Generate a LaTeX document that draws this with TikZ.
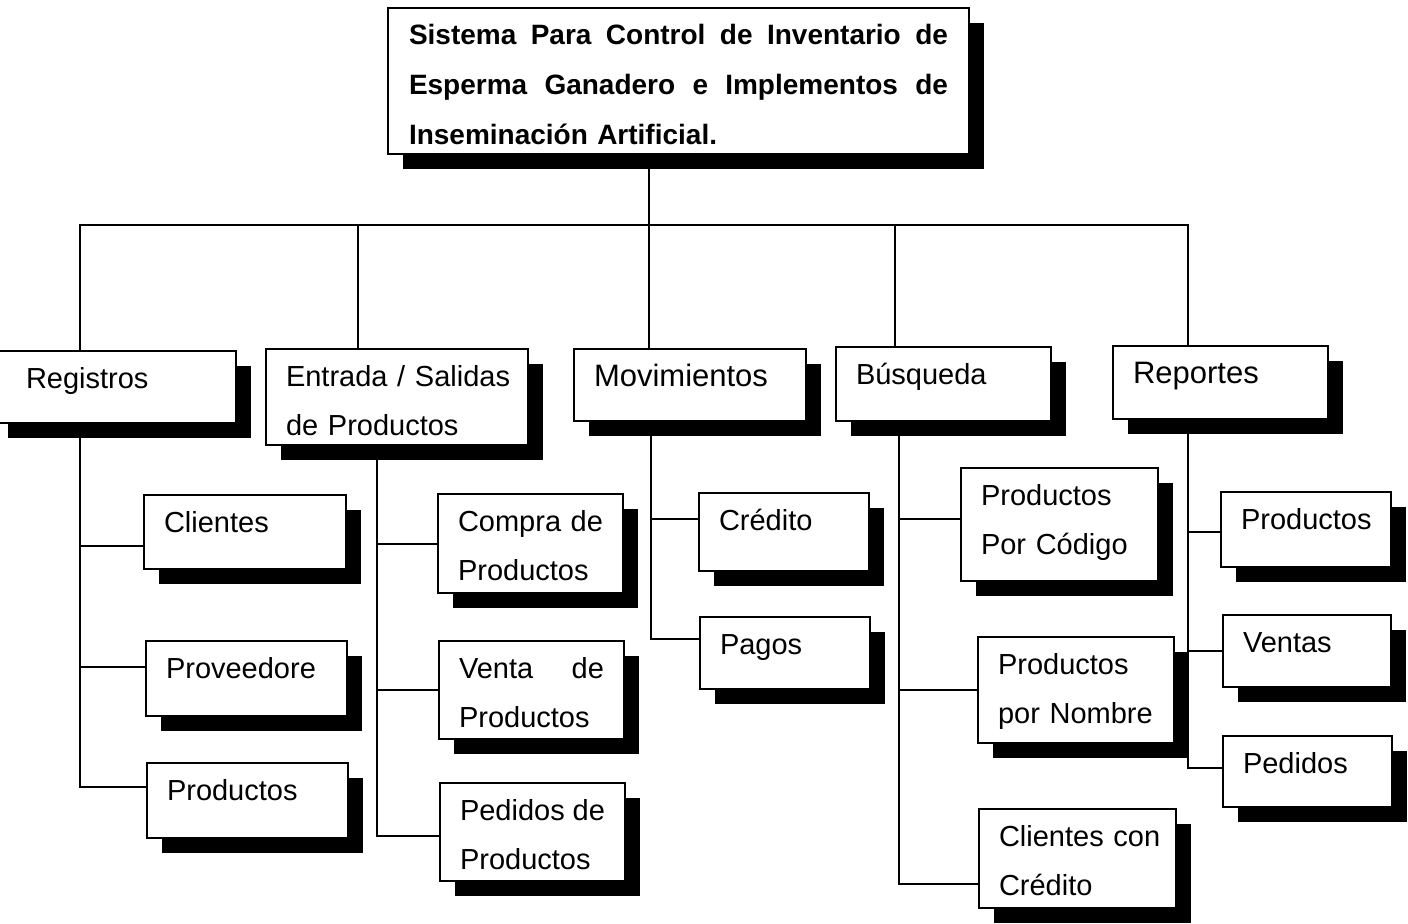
\documentclass[tikz,border=0pt]{standalone}
\usepackage{fontspec}
\setmainfont{Liberation Sans}
\usepackage{tikz}
\usetikzlibrary{shadows}

\tikzset{
  every box/.style={draw, fill=white, anchor=north west, align=left,
    inner xsep=10pt, inner ysep=0pt, text height=18.5pt,
    font=\fontsize{14.5}{24.5}\selectfont,
    drop shadow={shadow xshift=7.5pt, shadow yshift=-7.5pt, fill=black, opacity=1}},
  box size/.style 2 args={text width=#1, text depth=#2},
  big text/.style={font=\fontsize{15.5}{24.5}\selectfont}
}

\begin{document}
\begin{tikzpicture}[x=0.5pt, y=-0.5pt, line width=1pt]
\useasboundingbox (0,0) rectangle (1408,923);

% top box
\node [every box, box size={269.5pt}{55pt}, inner xsep=10.5pt, text height=18pt,
  font=\bfseries\fontsize{14}{25}\selectfont] (title) at (387,7)
  {\makebox[269.5pt][l]{Sistema\hfill Para\hfill Control\hfill de\hfill Inventario\hfill de}\\
   \makebox[269.5pt][l]{Esperma\hfill Ganadero\hfill e\hfill Implementos\hfill de}\\
   Inseminación Artificial.};

% first level
\node [every box, box size={88.5pt}{17.5pt}, inner xsep=16.5pt] (reg) at (-8,350) {Registros};
\node [every box, box size={111pt}{29.5pt}] (ent) at (265,348)
  {\mbox{Entrada / Salidas}\\ de Productos};
\node [every box, box size={96pt}{17.5pt}, big text] (mov) at (573,348) {Movimientos};
\node [every box, box size={87.5pt}{18.5pt}] (bsq) at (835,346) {Búsqueda};
\node [every box, box size={87.5pt}{18pt}, big text] (rep) at (1112,345) {Reportes};

% second level
\node [every box, box size={81pt}{18.5pt}] (cli) at (143,494) {Clientes};
\node [every box, box size={80.5pt}{19pt}] (prv) at (145,640) {Proveedore};
\node [every box, box size={80.5pt}{19pt}] (prd) at (146,762) {Productos};

\node [every box, box size={72.5pt}{31pt}] (com) at (437,493)
  {\makebox[72.5pt][l]{Compra\hfill de}\\ Productos};
\node [every box, box size={72.5pt}{30.5pt}] (ven) at (438,640)
  {\makebox[72.5pt][l]{Venta\hfill de}\\ Productos};
\node [every box, box size={72.5pt}{30.5pt}] (ped) at (439,782)
  {\makebox[72.5pt][l]{Pedidos\hfill de}\\ Productos};

\node [every box, box size={65pt}{20.5pt}] (cre) at (698,492) {Crédito};
\node [every box, box size={65pt}{17.5pt}] (pag) at (699,616) {Pagos};

\node [every box, box size={78.5pt}{38pt}] (ppc) at (960,467) {Productos\\ Por~Código};
\node [every box, box size={78pt}{34.5pt}] (ppn) at (977,636) {Productos\\ por~Nombre};
\node [every box, box size={78.5pt}{31pt}] (ccc) at (978,808) {Clientes~con\\ Crédito};

\node [every box, box size={65pt}{19pt}] (rpr) at (1220,491) {Productos};
\node [every box, box size={64pt}{17.5pt}] (rve) at (1222,614) {Ventas};
\node [every box, box size={64.5pt}{17pt}] (rpe) at (1222,735) {Pedidos};

% connectors
\coordinate (bar) at (649,225);
\draw (bar) -- (bar |- title.south);
\foreach \n/\s in {reg/44, ent/46.5, mov/38, bsq/30, rep/38}
  \draw (bar) -| ([xshift=\s pt]\n.north west);

\foreach \c/\s in {cli/-7, prv/6, prd/7}
  \draw ([xshift=44pt]reg.south west) |- ([yshift=\s pt]\c.west);
\foreach \c/\s in {com/0, ven/0, ped/-2}
  \draw ([xshift=56pt]ent.south west) |- ([yshift=\s pt]\c.west);
\foreach \c/\s in {cre/6.5, pag/7}
  \draw ([xshift=39pt]mov.south west) |- ([yshift=\s pt]\c.west);
\foreach \c/\s in {ppc/3, ppn/0, ccc/-12.5}
  \draw ([xshift=32pt]bsq.south west) |- ([yshift=\s pt]\c.west);
\foreach \c/\s in {rpr/-1, rve/0, rpe/2}
  \draw ([xshift=38pt]rep.south west) |- ([yshift=\s pt]\c.west);
\end{tikzpicture}
\end{document}
